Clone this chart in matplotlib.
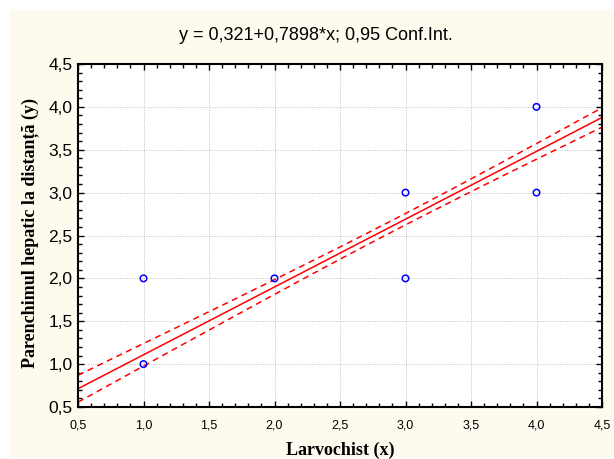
import numpy as np
import matplotlib
matplotlib.use("Agg")
import matplotlib.pyplot as plt
from matplotlib.patches import Rectangle
from matplotlib.ticker import MultipleLocator, FuncFormatter

# observed (x, y) pairs and how many cases fall on each one
x_vals = [1, 1, 2, 3, 3, 4, 4]
y_vals = [1, 2, 2, 2, 3, 3, 4]
counts = [32, 4, 12, 20, 36, 36, 36]

title = "y = 0,321+0,7898*x; 0,95 Conf.Int."
xlabel = "Larvochist (x)"
ylabel = "Parenchimul hepatic la distanță (y)"

# expand to individual cases for the fit
x = np.repeat(x_vals, counts).astype(float)
y = np.repeat(y_vals, counts).astype(float)
n = len(x)

# linear fit + 95% confidence band of the mean
slope, intercept = np.polyfit(x, y, 1)
resid = y - (intercept + slope * x)
s = np.sqrt(np.sum(resid ** 2) / (n - 2))
sxx = np.sum((x - x.mean()) ** 2)
t = 1.974  # t(0.975, n-2)

xx = np.linspace(0.5, 4.5, 200)
yy = intercept + slope * xx
half = t * s * np.sqrt(1 / n + (xx - x.mean()) ** 2 / sxx)

fig = plt.figure(figsize=(6.14, 4.59), dpi=100)
fig.patch.set_facecolor("white")
fig.patches.append(Rectangle((10 / 614, 2 / 459), 604 / 614, 447 / 459,
                             transform=fig.transFigure, facecolor="#fffaee",
                             edgecolor="none", zorder=-10))

ax = fig.add_axes([78 / 614, 1 - 407 / 459, 524 / 614, 343 / 459])
ax.set_facecolor("white")

ax.plot(xx, yy, color="red", lw=1.1)
ax.plot(xx, yy + half, color="red", lw=1.1, ls=(0, (4, 3)))
ax.plot(xx, yy - half, color="red", lw=1.1, ls=(0, (4, 3)))
ax.scatter(x_vals, y_vals, s=22, facecolors="none", edgecolors="#0000ff",
           linewidths=1.1, zorder=5)

ax.set_xlim(0.5, 4.5)
ax.set_ylim(0.5, 4.5)
ax.xaxis.set_major_locator(MultipleLocator(0.5))
ax.yaxis.set_major_locator(MultipleLocator(0.5))
ax.xaxis.set_minor_locator(MultipleLocator(0.1))
ax.yaxis.set_minor_locator(MultipleLocator(0.1))
comma = FuncFormatter(lambda v, p: f"{v:.1f}".replace(".", ","))
ax.xaxis.set_major_formatter(comma)
ax.yaxis.set_major_formatter(comma)

ax.tick_params(which="both", direction="in", top=True, right=True,
               color="black", width=1)
ax.tick_params(which="major", length=4)
ax.tick_params(which="minor", length=3)
ax.tick_params(axis="x", labelsize=9, pad=9)
ax.tick_params(axis="y", labelsize=12.5, pad=4)
for lab in ax.get_xticklabels() + ax.get_yticklabels():
    lab.set_family("Liberation Sans")

for sp in ax.spines.values():
    sp.set_linewidth(1.5)

ax.grid(True, which="major", color="#c0c0c0", ls=(0, (1, 1.5)), lw=0.7)
ax.set_axisbelow(True)

fig.text(316 / 614, 1 - 35 / 459, title, ha="center", va="center",
         fontsize=13, family="Liberation Sans")
fig.text(340 / 614, 1 - 450 / 459, xlabel, ha="center", va="center",
         fontsize=13, fontweight="bold", family="Liberation Serif")
fig.text(30 / 614, 1 - 233 / 459, ylabel, ha="center", va="center",
         rotation=90, fontsize=13, fontweight="bold",
         family="Liberation Serif")

fig.savefig("out.png", dpi=100)
